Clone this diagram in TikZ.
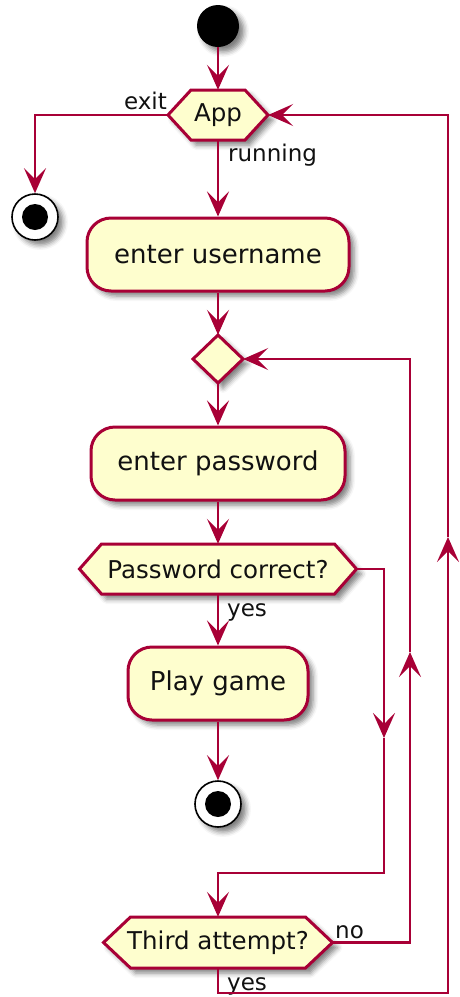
\documentclass[tikz,border=0pt]{standalone}
\usepackage{fontspec}
\setmainfont{DejaVu Sans}
\usetikzlibrary{arrows.meta,shadows.blur}

\definecolor{umlred}{HTML}{A80036}
\definecolor{umlfill}{HTML}{FEFECE}
\definecolor{umltext}{HTML}{111111}

\tikzset{
  soft/.style={blur shadow={shadow xshift=5pt, shadow yshift=-5pt,
      shadow blur radius=5pt, shadow opacity=50}},
  flow/.style={draw=umlred, line width=2.2pt},
  flowarrow/.style={flow, -{Stealth[length=25pt,width=22pt,inset=11pt]}},
  act/.style={draw=umlred, fill=umlfill, line width=3pt, rounded corners=24pt,
      inner sep=0pt, text=umltext, font=\fontsize{26}{30}\selectfont, soft},
  hexshape/.style={draw=umlred, fill=umlfill, line width=3pt, line join=miter, soft},
  hextext/.style={inner sep=0pt, text=umltext, font=\fontsize{24.5}{28}\selectfont},
  edgelabel/.style={inner sep=0pt, text=umltext, font=\fontsize{23}{26}\selectfont},
  startdot/.style={circle, fill=black, minimum size=42pt, inner sep=0pt, soft},
  enddot/.style={circle, draw=black, line width=1.6pt, fill=white,
      minimum size=46pt, inner sep=0pt, soft,
      path picture={\fill[black] (path picture bounding box.center) circle (13pt);}},
}

% hexagonal decision: name, centre x, centre y, half width, half height, point depth, text
\newcommand\decisionhex[7]{%
  \path[hexshape] ({#2-#4},#3) -- ({#2-#4+#6},{#3-#5}) -- ({#2+#4-#6},{#3-#5})
     -- ({#2+#4},#3) -- ({#2+#4-#6},{#3+#5}) -- ({#2-#4+#6},{#3+#5}) -- cycle;
  \node[hextext, minimum width={2*#4pt}, minimum height={2*#5pt}] (#1) at (#2,#3) {#7};}

\begin{document}
\begin{tikzpicture}[x=1pt, y=-1pt]
\useasboundingbox (0,0) rectangle (459,997);

% nodes
\node[startdot] (start) at (218,26) {};
\decisionhex{app}{218}{115}{50}{25}{23}{App}
\node[enddot] (stopA) at (35,217) {};
\node[act, minimum width=262pt, minimum height=73pt] (user) at (218,254.5) {enter username};

\path[hexshape] (193,359) -- (218,335) -- (243,359) -- (218,383) -- cycle;
\node[minimum width=50pt, minimum height=48pt, inner sep=0pt] (diam) at (218,359) {};

\node[act, minimum width=254pt, minimum height=73pt] (pass) at (218,463.5) {enter password};
\decisionhex{pc}{218}{569}{138.5}{25}{22}{Password correct?}
\node[act, minimum width=180pt, minimum height=73pt] (play) at (218,683.5) {Play game};
\node[enddot] (stopB) at (218,804) {};
\decisionhex{third}{218}{942.5}{114.5}{25.5}{27}{Third attempt?}

% edge labels
\node[edgelabel, anchor=base east] (lexit) at (167,109) {exit};
\node[edgelabel, anchor=base west] (lrun) at (228,161) {running};
\node[edgelabel, anchor=base west] (lyes1) at (227,616) {yes};
\node[edgelabel, anchor=base west] (lno) at (335,938) {no};
\node[edgelabel, anchor=base west] (lyes2) at (227,990) {yes};

% bend points and mid-line arrow tips
\coordinate (c1) at (384,738);
\coordinate (c2) at (384,873);
\coordinate (c3) at (410,652);
\coordinate (b1) at (218,993);
\coordinate (c4) at (448,537);

% connectors
\draw[flowarrow] (start.south) -- (app.north);
\draw[flowarrow] (app.west) -| (stopA.north);
\draw[flowarrow] (app.south) -- (user.north);
\draw[flowarrow] (user.south) -- (diam.north);
\draw[flowarrow] (diam.south) -- (pass.north);
\draw[flowarrow] (pass.south) -- (pc.north);
\draw[flowarrow] (pc.south) -- (play.north);
\draw[flowarrow] (play.south) -- (stopB.north);

\draw[flowarrow] (pc.east) -| (c1);
\draw[flowarrow] (c1) -- (c2) -| (third.north);

\draw[flowarrow] (third.east) -| (c3);
\draw[flowarrow] (c3) |- (diam.east);

\draw[flowarrow] (third.south) -- (b1) -| (c4);
\draw[flowarrow] (c4) |- (app.east);
\end{tikzpicture}
\end{document}
